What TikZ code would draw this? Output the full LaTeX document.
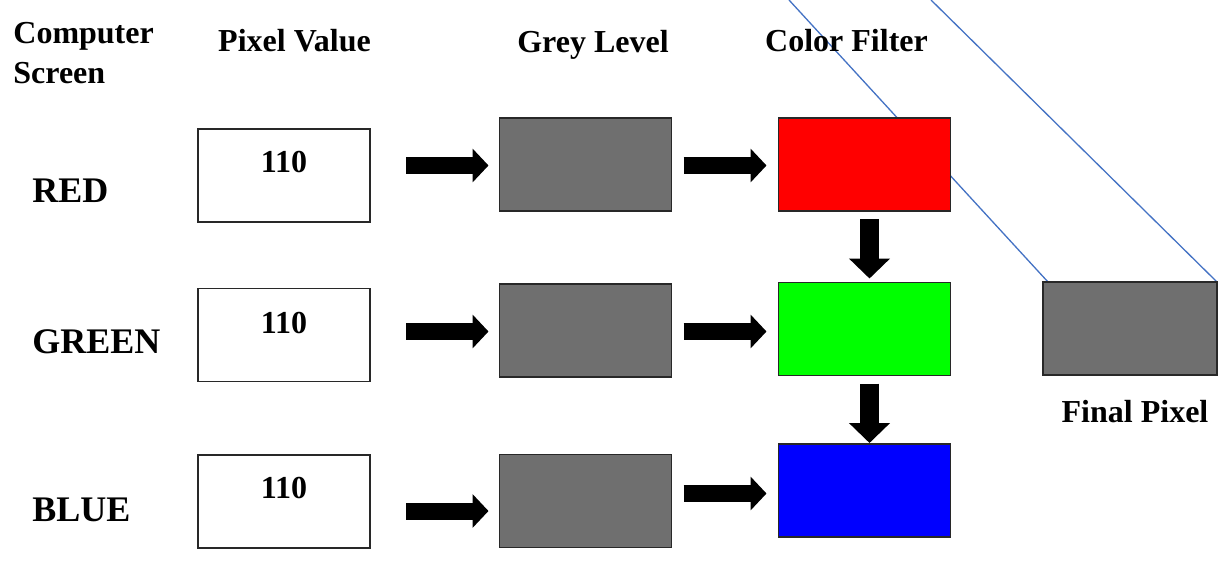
\documentclass[tikz,border=0pt]{standalone}
\usepackage{fontspec}
\setmainfont{Liberation Serif}
\usetikzlibrary{arrows.meta,backgrounds}
\definecolor{greylvl}{RGB}{111,111,111}
\definecolor{pixline}{RGB}{68,114,196}
\definecolor{boxedge}{RGB}{40,40,40}
\tikzset{
  cellbox/.style={draw=boxedge, line width=0.6pt, minimum width=86pt, minimum height=46.5pt, inner sep=0pt, outer sep=0pt},
  valbox/.style={cellbox, fill=white},
  greybox/.style={cellbox, fill=greylvl},
  header/.style={font=\fontsize{16}{20}\selectfont\bfseries, inner sep=0pt, anchor=base},
  rowlabel/.style={font=\fontsize{18}{22}\selectfont\bfseries, inner sep=0pt, anchor=base west},
  valtext/.style={font=\fontsize{16}{20}\selectfont\bfseries, inner sep=0pt, anchor=base},
  harrow/.style={line width=8.5pt, -{Triangle[width=16.5pt,length=8pt]}},
  varrow/.style={line width=9.5pt, -{Triangle[width=20pt,length=10pt]}},
  pixlinestyle/.style={draw=pixline, line width=0.65pt}
}
\begin{document}
\begin{tikzpicture}[x=0.5pt,y=-0.5pt]
\useasboundingbox (0,0) rectangle (1225,561);

% headers
\node[header, anchor=base west, align=left] (hcs) at (13,84) {Computer\\Screen};
\node[header] (hpv) at (294.5,52) {Pixel Value};
\node[header] (hgl) at (593,53) {Grey Level};
\node[header] (hcf) at (846.5,52) {Color Filter};

% row labels
\node[rowlabel] (lred) at (32,203) {RED};
\node[rowlabel] (lgreen) at (32,353) {GREEN};
\node[rowlabel] (lblue) at (32,521) {BLUE};

% pixel value boxes
\node[valbox] (pv1) at (284,175.5) {};
\node[valbox] (pv2) at (284,335) {};
\node[valbox] (pv3) at (284,501.5) {};
\node[valtext] (v1) at (284,173) {110};
\node[valtext] (v2) at (284,333) {110};
\node[valtext] (v3) at (284,498) {110};

% grey level boxes
\node[greybox] (gl1) at (585.5,164.5) {};
\node[greybox] (gl2) at (585.5,330.5) {};
\node[greybox] (gl3) at (585.5,501) {};

% color filter boxes
\node[cellbox, fill=red] (cf1) at (864.5,164.5) {};
\node[cellbox, fill={rgb,255:red,0;green,255;blue,0}] (cf2) at (864.5,329) {};
\node[cellbox, fill=blue] (cf3) at (864.5,490.5) {};

% final pixel
\node[greybox, minimum width=87pt] (fp) at (1130,328.5) {};
\node[header] (hfp) at (1135,422) {Final Pixel};

% projection lines (behind boxes)
\coordinate (t1) at (789,0);
\coordinate (t2) at (931,0);
\begin{scope}[on background layer]
\fill[white] (0,0) rectangle (1225,561);
\draw[pixlinestyle] (t1) -- ([xshift=2.5pt]fp.north west);
\draw[pixlinestyle] (t2) -- (fp.north east);
\end{scope}

% horizontal arrows
\path ([yshift=-0.5pt]gl1.west) coordinate (a1);
\draw[harrow, shorten <=18pt, shorten >=5.5pt] (pv1.east |- a1) -- (a1);
\draw[harrow, shorten <=6pt, shorten >=6pt] (gl1.east |- a1) -- (cf1.west |- a1);
\path ([yshift=-0.5pt]gl2.west) coordinate (a2);
\draw[harrow, shorten <=18pt, shorten >=5.5pt] (pv2.east |- a2) -- (a2);
\draw[harrow, shorten <=6pt, shorten >=6pt] (gl2.east |- a2) -- (cf2.west |- a2);
\path ([yshift=-5pt]gl3.west) coordinate (a3);
\draw[harrow, shorten <=18pt, shorten >=5.5pt] (pv3.east |- a3) -- (a3);
\path ([yshift=-1.5pt]cf3.west) coordinate (b3);
\draw[harrow, shorten <=6pt, shorten >=6pt] (gl3.east |- b3) -- (b3);

% vertical arrows
\draw[varrow, shorten <=4pt, shorten >=2pt] ([xshift=2.5pt]cf1.south) -- ([xshift=2.5pt]cf2.north);
\draw[varrow, shorten <=4pt, shorten >=0.5pt] ([xshift=2.5pt]cf2.south) -- ([xshift=2.5pt]cf3.north);
\end{tikzpicture}
\end{document}
